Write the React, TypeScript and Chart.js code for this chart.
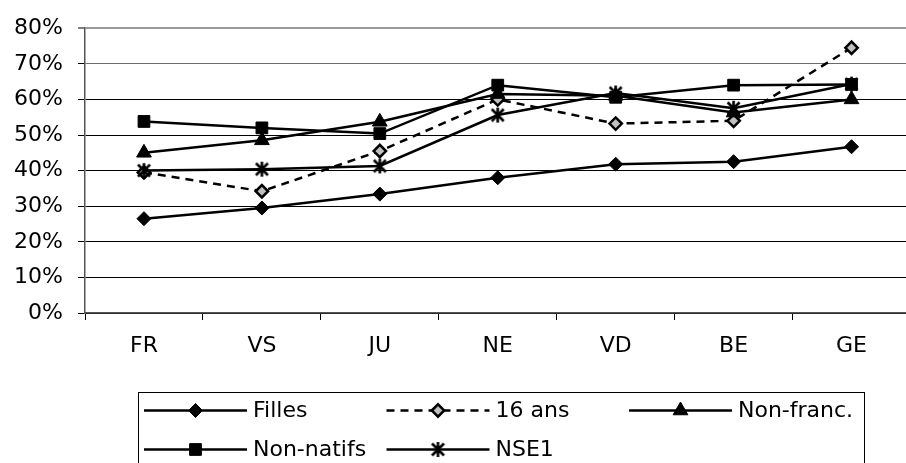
import React, { useEffect, useRef } from "react";
import { Chart, registerables } from "chart.js";
import { drawPoint } from "chart.js/helpers";

Chart.register(...registerables);

const categories = ["FR", "VS", "JU", "NE", "VD", "BE", "GE"];
const filles = [26.5, 29.5, 33.4, 38.0, 41.8, 42.5, 46.7];
const seize = [39.5, 34.2, 45.5, 60.0, 53.2, 54.0, 74.5];
const nonFranc = [45.0, 48.5, 53.7, 61.5, 61.0, 56.3, 60.0];
const nonNatifs = [53.8, 52.0, 50.4, 64.0, 60.6, 64.0, 64.2];
const nse1 = [40.0, 40.4, 41.3, 55.6, 61.8, 57.5, 64.3];
const seriesLabels = ["Filles", "16 ans", "Non-franc.", "Non-natifs", "NSE1"];

const FONT = '"DejaVu Sans", Verdana, sans-serif';

function makeAsterisk(): HTMLCanvasElement {
  const c = document.createElement("canvas");
  c.width = 17;
  c.height = 17;
  const g = c.getContext("2d")!;
  g.strokeStyle = "#000";
  g.lineWidth = 2.6;
  g.lineCap = "butt";
  g.beginPath();
  g.moveTo(2.5, 2.5);
  g.lineTo(14.5, 14.5);
  g.moveTo(14.5, 2.5);
  g.lineTo(2.5, 14.5);
  g.moveTo(8.5, 1);
  g.lineTo(8.5, 16);
  g.stroke();
  return c;
}

const legendPlugin = {
  id: "boxLegend",
  afterDraw(chart: any) {
    const ctx = chart.ctx as CanvasRenderingContext2D;
    ctx.save();
    ctx.strokeStyle = "#000";
    ctx.lineWidth = 1;
    ctx.setLineDash([]);
    ctx.strokeRect(138.5, 392.5, 726, 120);
    chart.data.datasets.forEach((ds: any, i: number) => {
      const col = i % 3;
      const row = Math.floor(i / 3);
      const x0 = 144 + col * 242.5;
      const y = 410.5 + row * 39;
      ctx.strokeStyle = "#000";
      ctx.lineWidth = 2.5;
      ctx.setLineDash(ds.borderDash || []);
      ctx.beginPath();
      ctx.moveTo(x0, y);
      ctx.lineTo(x0 + 103, y);
      ctx.stroke();
      ctx.setLineDash([]);
      ctx.fillStyle = ds.pointBackgroundColor;
      ctx.strokeStyle = ds.pointBorderColor;
      ctx.lineWidth = ds.pointBorderWidth;
      drawPoint(
        ctx,
        {
          pointStyle: ds.pointStyle,
          radius: ds.pointRadius,
          borderWidth: ds.pointBorderWidth,
          rotation: 0,
        } as any,
        x0 + 51.5,
        y
      );
      ctx.fillStyle = "#000";
      ctx.font = `22px ${FONT}`;
      ctx.textBaseline = "middle";
      ctx.textAlign = "left";
      ctx.fillText(ds.label, x0 + 109, y + 1);
    });
    ctx.restore();
  },
};

export default function App() {
  const ref = useRef<HTMLCanvasElement | null>(null);

  useEffect(() => {
    if (!ref.current) return;
    const asterisk = makeAsterisk();
    const base = {
      borderColor: "#000",
      borderWidth: 2.5,
      tension: 0,
      pointBorderColor: "#000",
      fill: false,
    };
    const chart = new Chart(ref.current, {
      type: "line",
      data: {
        labels: categories,
        datasets: [
          {
            ...base,
            label: seriesLabels[0],
            data: filles,
            pointStyle: "rectRot",
            pointRadius: 7,
            pointBackgroundColor: "#000",
            pointBorderWidth: 1,
            order: 5,
          },
          {
            ...base,
            label: seriesLabels[1],
            data: seize,
            borderDash: [8, 6],
            pointStyle: "rectRot",
            pointRadius: 6.2,
            pointBackgroundColor: "#c0c0c0",
            pointBorderWidth: 2.5,
            order: 4,
          },
          {
            ...base,
            label: seriesLabels[2],
            data: nonFranc,
            pointStyle: "triangle",
            pointRadius: 8.5,
            pointBackgroundColor: "#000",
            pointBorderWidth: 1,
            order: 3,
          },
          {
            ...base,
            label: seriesLabels[3],
            data: nonNatifs,
            pointStyle: "rect",
            pointRadius: 8.3,
            pointBackgroundColor: "#000",
            pointBorderWidth: 1,
            order: 2,
          },
          {
            ...base,
            label: seriesLabels[4],
            data: nse1,
            pointStyle: asterisk as any,
            pointRadius: 8,
            pointBackgroundColor: "#000",
            pointBorderWidth: 0,
            order: 1,
          },
        ] as any,
      },
      options: {
        animation: false,
        responsive: false,
        devicePixelRatio: 1,
        layout: { padding: { top: 24, right: 1, bottom: 0, left: 0 } },
        plugins: {
          legend: { display: false },
          tooltip: { enabled: false },
        },
        scales: {
          x: {
            type: "category",
            offset: true,
            grid: {
              offset: true,
              drawOnChartArea: false,
              drawTicks: true,
              tickLength: 7,
              tickColor: "#000",
              tickWidth: 1,
            },
            border: { color: "#555", width: 1.5 },
            ticks: {
              color: "#000",
              font: { family: FONT, size: 22 },
              padding: 13,
              maxRotation: 0,
              autoSkip: false,
            },
            afterFit: (scale: any) => {
              scale.height = 150;
            },
          },
          y: {
            min: 0,
            max: 80,
            grid: {
              color: (c: any) =>
                c.tick && c.tick.value === 80
                  ? "#9a9a9a"
                  : c.tick && c.tick.value === 70
                  ? "#6a6a6a"
                  : "#000",
              lineWidth: (c: any) => (c.tick && c.tick.value === 80 ? 2 : 1),
              tickLength: 7,
              tickColor: "#000",
              tickWidth: 1,
            },
            border: { color: "#555", width: 1.5 },
            ticks: {
              stepSize: 10,
              color: "#000",
              font: { family: FONT, size: 22 },
              padding: 15,
              callback: (v: any) => `${v}%`,
            },
            afterFit: (scale: any) => {
              scale.width = 85;
            },
          },
        },
      } as any,
      plugins: [legendPlugin],
    });
    return () => chart.destroy();
  }, []);

  return (
    <div
      style={{
        position: "fixed",
        left: 0,
        top: 0,
        width: 906,
        height: 463,
        overflow: "hidden",
        background: "#fff",
      }}
    >
      <canvas
        ref={ref}
        width={920}
        height={463}
        style={{ width: 920, height: 463, display: "block" }}
      />
    </div>
  );
}
